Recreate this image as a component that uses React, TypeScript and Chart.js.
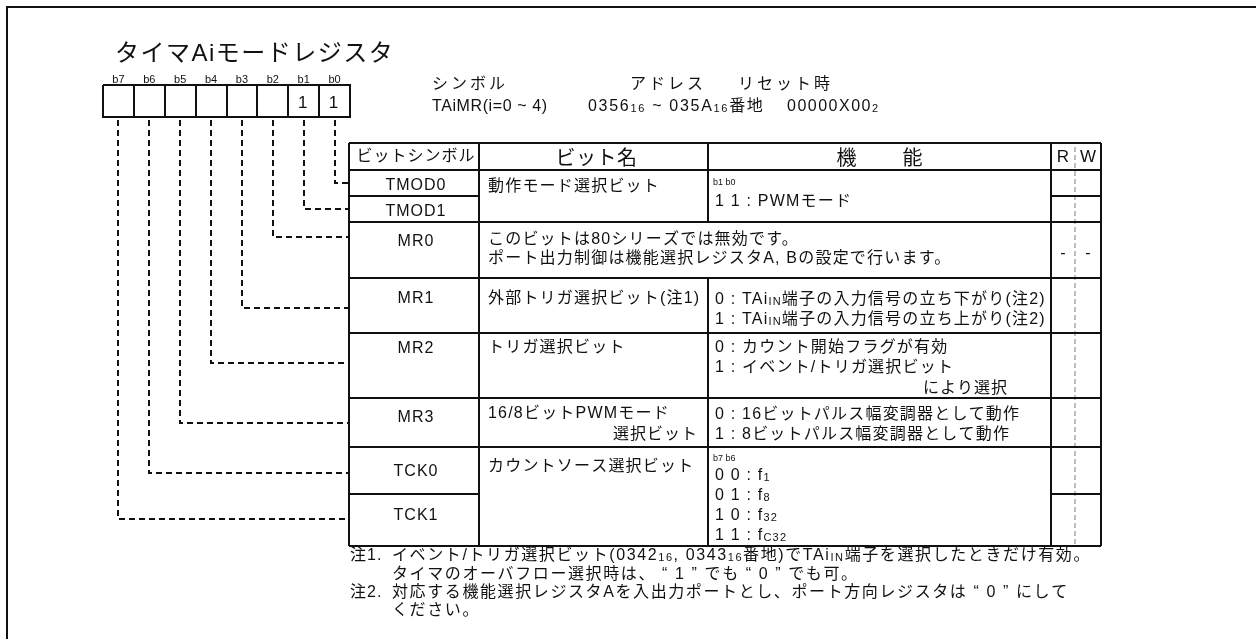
import { useEffect, useRef } from 'react';
import { Chart, registerables } from 'chart.js';

Chart.register(...registerables);

// ---------------- DATA ----------------
const title = 'タイマAiモードレジスタ';
const bitLabels = ['b7', 'b6', 'b5', 'b4', 'b3', 'b2', 'b1', 'b0'];
const bitValues = ['', '', '', '', '', '', '1', '1'];
const infoHeaders = ['シンボル', 'アドレス', 'リセット時'];
const infoValues = ['TAiMR(i=0 ~ 4)', '0356_{16} ~ 035A_{16}番地', '00000X00_{2}'];
const tableHeaders = ['ビットシンボル', 'ビット名', '機　　能', 'R', 'W'];
const bitSymbols = ['TMOD0', 'TMOD1', 'MR0', 'MR1', 'MR2', 'MR3', 'TCK0', 'TCK1'];
const bitNames: string[][] = [
  ['動作モード選択ビット'],
  [],
  ['このビットは80シリーズでは無効です。', 'ポート出力制御は機能選択レジスタA, Bの設定で行います。'],
  ['外部トリガ選択ビット(注1)'],
  ['トリガ選択ビット'],
  ['16/8ビットPWMモード', '選択ビット'],
  ['カウントソース選択ビット'],
  [],
];
const fieldLegends = ['b1 b0', '', '', '', '', '', 'b7 b6', ''];
const functions: string[][] = [
  ['1 1 : PWMモード'],
  [],
  [],
  ['0 : TAi_{IN}端子の入力信号の立ち下がり(注2)', '1 : TAi_{IN}端子の入力信号の立ち上がり(注2)'],
  ['0 : カウント開始フラグが有効', '1 : イベント/トリガ選択ビット', 'により選択'],
  ['0 : 16ビットパルス幅変調器として動作', '1 : 8ビットパルス幅変調器として動作'],
  ['0 0 : f_{1}', '0 1 : f_{8}', '1 0 : f_{32}', '1 1 : f_{C32}'],
  [],
];
const readValues = ['', '', '-', '', '', '', '', ''];
const writeValues = ['', '', '-', '', '', '', '', ''];
const noteMarks = ['注1.', '', '注2.', ''];
const noteLines = [
  'イベント/トリガ選択ビット(0342_{16}, 0343_{16}番地)でTAi_{IN}端子を選択したときだけ有効。',
  'タイマのオーバフロー選択時は、 “ 1 ” でも “ 0 ” でも可。',
  '対応する機能選択レジスタAを入出力ポートとし、ポート方向レジスタは “ 0 ” にして',
  'ください。',
];

// ---------------- LAYOUT ----------------
const W = 1256;
const H = 639;
const FAM = '"Liberation Sans", "Noto Sans CJK JP", sans-serif';
const frameXY = 7;
const reg = { x0: 103, x1: 350, y0: 85, y1: 117 };
const cellW = (reg.x1 - reg.x0) / 8;
const cellCenter = (i: number) => reg.x0 + cellW * (i + 0.5);
const cols = [349, 479, 708, 1051, 1101];
const rwMid = 1075;
const tableTop = 143;
const headBottom = 170;
const rowBottoms = [196, 222, 278, 333, 398, 447, 494, 546];
const mergedWithNext = [true, false, false, false, false, false, true, false];
const spansNameAndFunc = [false, false, true, false, false, false, false, false];
const leaderTargets = [519, 473, 423, 363, 308, 237, 209, 183]; // b7..b0
const symBase = [190, 216, 246, 303, 353, 422, 476, 520];
const nameBase = [[191], [], [244, 263], [303], [352], [418, 439], [471], []];
const nameRight: Record<string, number> = { '5-1': 698 };
const legendBase = [185, 0, 0, 0, 0, 0, 461, 0];
const funcBase = [[206], [], [], [304, 324], [352, 372, 393], [419, 439], [480, 500, 520, 540], []];
const funcRight: Record<string, number> = { '4-2': 1008 };
const rwBase = 258;
const noteBase = [560, 579, 597, 615];

type Item = { s: string; x: number; y: number; size: number; align?: 'left' | 'center' | 'right'; ls?: number };

function buildItems(): Item[] {
  const items: Item[] = [];
  items.push({ s: title, x: 115, y: 61, size: 24, ls: 1.5 });
  bitLabels.forEach((b, i) => items.push({ s: b, x: cellCenter(i), y: 83, size: 11, align: 'center', ls: 0 }));
  bitValues.forEach((v, i) => v && items.push({ s: v, x: cellCenter(i) - 1, y: 108, size: 17, align: 'center', ls: 0 }));
  const infoX1 = [432, 630, 738];
  const infoX2 = [432, 588, 787];
  const infoLs2 = [0.6, 1.7, 1.5];
  infoHeaders.forEach((s, i) => items.push({ s, x: infoX1[i], y: 89, size: 16, ls: 3 }));
  infoValues.forEach((s, i) => items.push({ s, x: infoX2[i], y: 111, size: 16, ls: infoLs2[i] }));
  const hx = [(cols[0] + cols[1]) / 2 + 2, (cols[1] + cols[2]) / 2 + 3, (cols[2] + cols[3]) / 2 + 1, (cols[3] + rwMid) / 2, (rwMid + cols[4]) / 2];
  const hs = [16, 20, 20, 17, 17];
  const hy = [161, 165, 165, 162, 162];
  const hl = [1, 0.5, 2, 0, 0];
  tableHeaders.forEach((s, i) => items.push({ s, x: hx[i], y: hy[i], size: hs[i], align: 'center', ls: hl[i] }));
  bitSymbols.forEach((s, i) => items.push({ s, x: (cols[0] + cols[1]) / 2 + 2, y: symBase[i], size: 16, align: 'center', ls: 1 }));
  bitNames.forEach((lines, r) =>
    lines.forEach((s, k) => {
      const rx = nameRight[`${r}-${k}`];
      items.push(rx ? { s, x: rx, y: nameBase[r][k], size: 16, align: 'right', ls: 1 } : { s, x: 488, y: nameBase[r][k], size: 16, ls: 1.2 });
    })
  );
  fieldLegends.forEach((s, r) => s && items.push({ s, x: 713, y: legendBase[r], size: 9, ls: 0 }));
  functions.forEach((lines, r) =>
    lines.forEach((s, k) => {
      const rx = funcRight[`${r}-${k}`];
      items.push(rx ? { s, x: rx, y: funcBase[r][k], size: 16, align: 'right', ls: 1 } : { s, x: 715, y: funcBase[r][k], size: 16, ls: 1.2 });
    })
  );
  readValues.forEach((s) => s && items.push({ s, x: (cols[3] + rwMid) / 2, y: rwBase, size: 16, align: 'center', ls: 0 }));
  writeValues.forEach((s) => s && items.push({ s, x: (rwMid + cols[4]) / 2, y: rwBase, size: 16, align: 'center', ls: 0 }));
  noteMarks.forEach((s, i) => s && items.push({ s, x: 350, y: noteBase[i], size: 16, ls: 1 }));
  noteLines.forEach((s, i) => items.push({ s, x: 392, y: noteBase[i], size: 16, ls: 1.6 }));
  return items;
}

function parseRuns(s: string) {
  const runs: { t: string; small: boolean }[] = [];
  const re = /_\{([^}]*)\}/g;
  let last = 0;
  let m: RegExpExecArray | null;
  while ((m = re.exec(s))) {
    if (m.index > last) runs.push({ t: s.slice(last, m.index), small: false });
    runs.push({ t: m[1], small: true });
    last = m.index + m[0].length;
  }
  if (last < s.length) runs.push({ t: s.slice(last), small: false });
  return runs;
}

function drawRich(ctx: CanvasRenderingContext2D, it: Item, px: number, py: number) {
  const runs = parseRuns(it.s);
  const ls = it.ls ?? 0;
  const smallSize = Math.round(it.size * 0.7);
  const widths = runs.map((r) => {
    ctx.font = `${r.small ? smallSize : it.size}px ${FAM}`;
    (ctx as any).letterSpacing = `${ls}px`;
    return ctx.measureText(r.t).width;
  });
  const total = widths.reduce((a, b) => a + b, 0);
  let x = px;
  if (it.align === 'center') x = px - total / 2;
  else if (it.align === 'right') x = px - total;
  runs.forEach((r, i) => {
    ctx.font = `${r.small ? smallSize : it.size}px ${FAM}`;
    (ctx as any).letterSpacing = `${ls}px`;
    ctx.fillText(r.t, x, py + (r.small ? 1 : 0));
    x += widths[i];
  });
}

const textPlugin = {
  id: 'registerText',
  afterDatasetsDraw(chart: any) {
    const ctx: CanvasRenderingContext2D = chart.ctx;
    const xs = chart.scales.x;
    const ys = chart.scales.y;
    ctx.save();
    ctx.fillStyle = '#111';
    ctx.textBaseline = 'alphabetic';
    ctx.textAlign = 'left';
    buildItems().forEach((it) => drawRich(ctx, it, xs.getPixelForValue(it.x), ys.getPixelForValue(it.y)));
    ctx.restore();
  },
};

type Seg = { pts: [number, number][]; color?: string; width?: number; dash?: number[] };

function buildSegments(): Seg[] {
  const segs: Seg[] = [];
  segs.push({ pts: [[frameXY, H + 2], [frameXY, frameXY], [W + 2, frameXY]], width: 2 });
  segs.push({ pts: [[reg.x0, reg.y0], [reg.x1, reg.y0], [reg.x1, reg.y1], [reg.x0, reg.y1], [reg.x0, reg.y0]], width: 2 });
  for (let i = 1; i < 8; i++) {
    const x = Math.round(reg.x0 + cellW * i);
    segs.push({ pts: [[x, reg.y0], [x, reg.y1]], width: 2 });
  }
  bitLabels.forEach((_, i) => {
    const x = Math.round(cellCenter(i));
    const ty = leaderTargets[i];
    segs.push({ pts: [[x, reg.y1 + 3], [x, ty], [cols[0], ty]], width: 2, dash: [6, 4] });
  });
  const full = (y: number) => segs.push({ pts: [[cols[0], y], [cols[4], y]], width: 2 });
  full(tableTop);
  full(headBottom);
  rowBottoms.forEach((y, r) => {
    if (mergedWithNext[r]) {
      segs.push({ pts: [[cols[0], y], [cols[1], y]], width: 2 });
      segs.push({ pts: [[cols[3], y], [cols[4], y]], width: 2 });
    } else full(y);
  });
  const bottom = rowBottoms[rowBottoms.length - 1];
  [cols[0], cols[1], cols[3], cols[4]].forEach((x) => segs.push({ pts: [[x, tableTop], [x, bottom]], width: 2 }));
  let start = tableTop;
  rowBottoms.forEach((y, r) => {
    const top = r === 0 ? headBottom : rowBottoms[r - 1];
    if (spansNameAndFunc[r]) {
      segs.push({ pts: [[cols[2], start], [cols[2], top]], width: 2 });
      start = y;
    }
  });
  segs.push({ pts: [[cols[2], start], [cols[2], bottom]], width: 2 });
  segs.push({ pts: [[rwMid, tableTop + 4], [rwMid, bottom - 1]], width: 1.5, color: '#a8a8a8', dash: [5, 3] });
  return segs;
}

export default function App() {
  const ref = useRef<HTMLCanvasElement | null>(null);
  useEffect(() => {
    if (!ref.current) return;
    const segs = buildSegments();
    const chart = new Chart(ref.current, {
      type: 'scatter',
      data: {
        datasets: segs.map((s) => ({
          data: s.pts.map(([x, y]) => ({ x, y })),
          showLine: true,
          borderColor: s.color ?? '#111',
          borderWidth: s.width ?? 2,
          borderDash: s.dash ?? [],
          pointRadius: 0,
          pointHoverRadius: 0,
          fill: false,
          tension: 0,
          borderCapStyle: 'butt',
          borderJoinStyle: 'miter',
          clip: false,
        })) as any,
      },
      options: {
        responsive: false,
        animation: false,
        devicePixelRatio: 1,
        events: [],
        layout: { padding: 0 },
        plugins: { legend: { display: false }, tooltip: { enabled: false } },
        scales: {
          x: { type: 'linear', min: 0, max: W, display: false },
          y: { type: 'linear', min: 0, max: H, reverse: true, display: false },
        },
      },
      plugins: [textPlugin],
    });
    return () => chart.destroy();
  }, []);
  return (
    <div style={{ position: 'fixed', left: 0, top: 0, width: W, height: H, background: '#fff' }}>
      <canvas ref={ref} width={W} height={H} style={{ width: W, height: H, display: 'block' }} />
    </div>
  );
}
